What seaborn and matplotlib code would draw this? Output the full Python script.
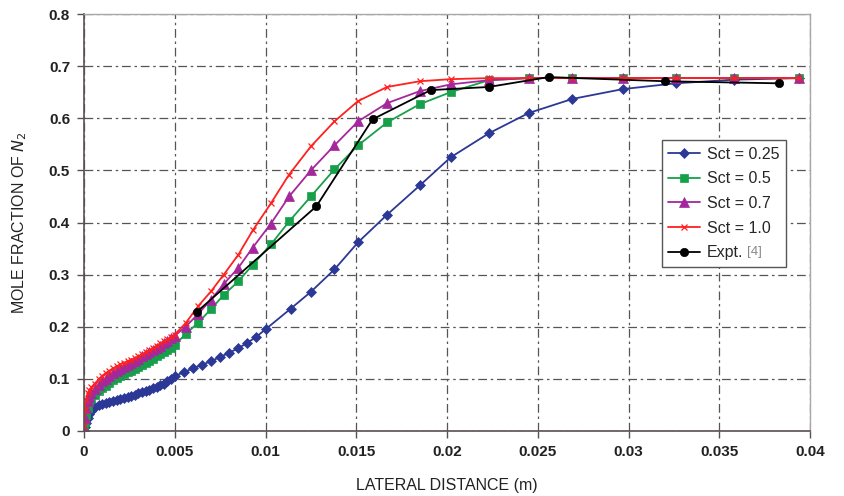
"""Mole fraction of N2 vs lateral distance for several turbulent Schmidt numbers."""

import matplotlib

matplotlib.use("Agg")
import matplotlib.pyplot as plt
import seaborn as sns

# lateral distance (m) and mole fraction values
x_fine = [0, 0.00005, 0.0001, 0.0002, 0.0003, 0.0004, 0.0006, 0.0008, 0.001,
          0.0012, 0.0014, 0.0016, 0.0018, 0.002, 0.0022, 0.0024, 0.0026, 0.0028,
          0.003, 0.0032, 0.0034, 0.0036, 0.0038, 0.004, 0.0042, 0.0044, 0.0046,
          0.0048, 0.005]
x_coarse = [0.0056, 0.0063, 0.0070, 0.0077, 0.0085, 0.0093, 0.0103, 0.0113, 0.0125,
            0.0138, 0.0151, 0.0167, 0.0185, 0.0202, 0.0223, 0.0245, 0.0269, 0.0297,
            0.0326, 0.0358, 0.0394]

x_sct025 = [0, 0.00005, 0.0001, 0.0002, 0.0003, 0.0004, 0.0005, 0.0006, 0.0008, 0.001,
            0.0012, 0.0014, 0.0016, 0.0018, 0.002, 0.0022, 0.0024, 0.0026, 0.0028,
            0.003, 0.0032, 0.0034, 0.0036, 0.0038, 0.004, 0.0042, 0.0044, 0.0046,
            0.0048, 0.005, 0.0055, 0.006, 0.0065, 0.007, 0.0075, 0.008, 0.0085, 0.009,
            0.0095, 0.01, 0.0114, 0.0125, 0.0138, 0.0151, 0.0167, 0.0185, 0.0202,
            0.0223, 0.0245, 0.0269, 0.0297, 0.0326, 0.0358, 0.0394]
y_sct025 = [0.0, 0.008, 0.015, 0.025, 0.032, 0.038, 0.044, 0.047, 0.049, 0.051,
            0.053, 0.055, 0.057, 0.059, 0.061, 0.063, 0.065, 0.067, 0.069,
            0.072, 0.074, 0.077, 0.079, 0.082, 0.085, 0.088, 0.091, 0.095,
            0.100, 0.105, 0.113, 0.120, 0.127, 0.134, 0.142, 0.150, 0.159, 0.169,
            0.181, 0.195, 0.235, 0.267, 0.310, 0.362, 0.415, 0.471, 0.525,
            0.571, 0.610, 0.637, 0.656, 0.667, 0.674, 0.677]

y_sct05 = [0.005, 0.018, 0.030, 0.045, 0.055, 0.062, 0.070, 0.076, 0.082,
           0.087, 0.092, 0.097, 0.101, 0.105, 0.109, 0.113, 0.116, 0.119,
           0.122, 0.126, 0.130, 0.134, 0.138, 0.143, 0.147, 0.152, 0.156,
           0.160, 0.165,
           0.186, 0.208, 0.234, 0.261, 0.287, 0.319, 0.358, 0.402, 0.450, 0.502,
           0.548, 0.592, 0.627, 0.650, 0.673, 0.677, 0.677, 0.677, 0.677, 0.677, 0.677]

y_sct07 = [0.005, 0.025, 0.045, 0.058, 0.066, 0.072, 0.080, 0.088, 0.095,
           0.100, 0.106, 0.111, 0.115, 0.119, 0.123, 0.127, 0.131, 0.135,
           0.139, 0.143, 0.147, 0.151, 0.155, 0.160, 0.164, 0.168, 0.173,
           0.178, 0.183,
           0.200, 0.225, 0.252, 0.282, 0.313, 0.352, 0.398, 0.450, 0.500, 0.548,
           0.594, 0.629, 0.652, 0.665, 0.673, 0.677, 0.677, 0.677, 0.677, 0.677, 0.677]

y_sct10 = [0.010, 0.040, 0.060, 0.072, 0.079, 0.084, 0.091, 0.099, 0.106,
           0.111, 0.116, 0.120, 0.124, 0.128, 0.131, 0.134, 0.137, 0.140,
           0.143, 0.147, 0.151, 0.155, 0.159, 0.164, 0.168, 0.172, 0.176,
           0.180, 0.185,
           0.207, 0.240, 0.268, 0.300, 0.338, 0.385, 0.437, 0.492, 0.546, 0.594,
           0.633, 0.660, 0.671, 0.675, 0.677, 0.677, 0.677, 0.677, 0.677, 0.677, 0.677]

x_expt = [0.0062, 0.0128, 0.0159, 0.0191, 0.0223, 0.0256, 0.0320, 0.0383]
y_expt = [0.228, 0.431, 0.598, 0.654, 0.660, 0.679, 0.671, 0.667]

x_model = x_fine + x_coarse
x_ticks = [0, 0.005, 0.01, 0.015, 0.02, 0.025, 0.03, 0.035, 0.04]
x_tick_labels = ["0", "0.005", "0.01", "0.015", "0.02", "0.025", "0.03", "0.035", "0.04"]
y_ticks = [0, 0.1, 0.2, 0.3, 0.4, 0.5, 0.6, 0.7, 0.8]
y_tick_labels = ["0", "0.1", "0.2", "0.3", "0.4", "0.5", "0.6", "0.7", "0.8"]

sns.set_style("white")
plt.rcParams["font.family"] = ["Liberation Sans", "DejaVu Sans"]

fig = plt.figure(figsize=(8.44, 4.96), dpi=100)
ax = fig.add_axes([84 / 844, 65 / 496, 726 / 844, 417 / 496])

series = [
    (x_sct025, y_sct025, "Sct = 0.25", "#2c3896", "D", 5.0),
    (x_model, y_sct05, "Sct = 0.5", "#17a04a", "s", 5.5),
    (x_model, y_sct07, "Sct = 0.7", "#a4279c", "^", 6.5),
    (x_model, y_sct10, "Sct = 1.0", "#ff2020", "x", 5.0),
    (x_expt, y_expt, "Expt.", "#000000", "o", 6.0),
]
for xs, ys, label, color, marker, ms in series:
    sns.lineplot(
        x=xs, y=ys, ax=ax, label=label, color=color, marker=marker,
        markersize=ms, markeredgecolor=color,
        markeredgewidth=0.9 if marker == "x" else 0.5,
        linewidth=1.3, sort=False, estimator=None,
    )

ax.set_xlim(0, 0.04)
ax.set_ylim(0, 0.8)
ax.set_xticks(x_ticks)
ax.set_xticklabels(x_tick_labels)
ax.set_yticks(y_ticks)
ax.set_yticklabels(y_tick_labels)
ax.tick_params(axis="both", direction="out", length=5, width=1, color="#5a5050",
               labelsize=11, labelcolor="#222222", pad=5, bottom=True, left=True)
for lab in ax.get_xticklabels() + ax.get_yticklabels():
    lab.set_fontweight("bold")

ax.grid(True, color="#555555", linestyle=(0, (7, 3, 2, 3)), linewidth=0.9)
for side in ["left", "bottom"]:
    ax.spines[side].set_color("#5a5050")
    ax.spines[side].set_linewidth(1.2)
for side in ["top", "right"]:
    ax.spines[side].set_color("#a8a8a8")
    ax.spines[side].set_linewidth(1.0)

ax.set_xlabel("LATERAL DISTANCE (m)", fontsize=11.5, color="#222222", labelpad=14)
ax.set_ylabel("MOLE FRACTION OF $N_2$", fontsize=11.5, color="#222222", labelpad=14)

leg = ax.legend(
    loc="upper left", bbox_to_anchor=(0.785, 0.716), fontsize=11.5,
    frameon=True, fancybox=False, edgecolor="#555555", framealpha=1,
    handlelength=2.0, handletextpad=0.4, labelspacing=0.6, borderpad=0.4,
)
leg.get_frame().set_linewidth(1.0)

# the reference number after "Expt." is smaller and grey
fig.canvas.draw()
expt_box = leg.get_texts()[4].get_window_extent()
fig.text(expt_box.x1 + 4, expt_box.y0 + 2, "[4]", transform=None,
         fontsize=9.5, color="#888888", ha="left", va="bottom", zorder=10)

fig.savefig("out.png", dpi=100, facecolor="white")
